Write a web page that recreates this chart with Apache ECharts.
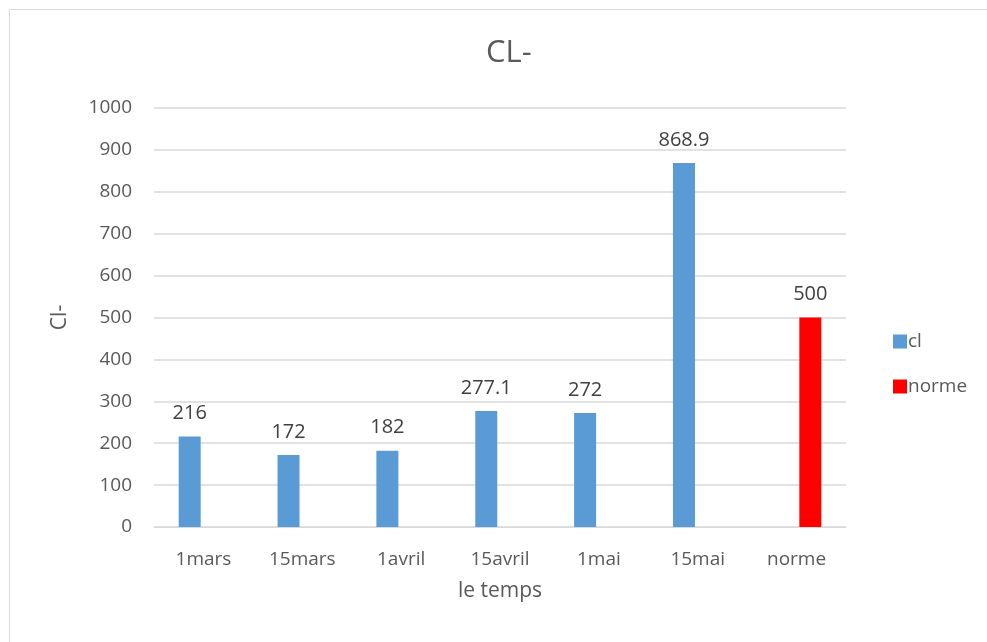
<!DOCTYPE html>
<html>
<head>
<meta charset="utf-8">
<script src="https://cdn.jsdelivr.net/npm/echarts@6/dist/echarts.min.js"></script>
<style>
  html, body { margin: 0; padding: 0; background: #fff; }
  #chart { width: 987px; height: 642px; }
</style>
</head>
<body>
<div id="chart"></div>
<script>
// données
const categories = ['1mars', '15mars', '1avril', '15avril', '1mai', '15mai', 'norme']
const clValues = [216, 172, 182, 277.1, 272, 868.9, null]
const normeValues = [null, null, null, null, null, null, 500]
const yTicks = { min: 0, max: 1000, interval: 100 }

const font = '"Open Sans", Lato, sans-serif'
const txtColor = '#595959'

const chart = echarts.init(document.getElementById('chart'))
chart.setOption({
  animation: false,
  textStyle: { fontFamily: font },
  graphic: [{
    type: 'rect',
    shape: { x: 9.5, y: 9.5, width: 1000, height: 700 },
    style: { fill: 'none', stroke: '#d9d9d9', lineWidth: 1 }
  }],
  title: {
    text: 'CL-',
    left: 481,
    top: 33,
    textStyle: { fontFamily: font, fontSize: 31, fontWeight: 'normal', color: txtColor }
  },
  legend: {
    orient: 'vertical',
    left: 888,
    top: 327,
    itemWidth: 14,
    itemHeight: 14,
    itemGap: 26,
    icon: 'rect',
    textStyle: { fontFamily: font, fontSize: 19, color: txtColor, padding: [0, 0, 0, -4] },
    data: ['cl', 'norme']
  },
  grid: { left: 154, right: 141, top: 108, bottom: 115 },
  xAxis: {
    type: 'category',
    data: categories,
    name: 'le temps',
    nameLocation: 'middle',
    nameGap: 54,
    nameTextStyle: { fontFamily: font, fontSize: 21, color: txtColor },
    axisLine: { lineStyle: { color: '#d9d9d9' } },
    axisTick: { show: false },
    axisLabel: { fontFamily: font, fontSize: 19, color: txtColor, margin: 23 }
  },
  yAxis: {
    type: 'value',
    min: yTicks.min,
    max: yTicks.max,
    interval: yTicks.interval,
    name: 'Cl-',
    nameLocation: 'middle',
    nameGap: 83,
    nameRotate: 90,
    nameTextStyle: { fontFamily: font, fontSize: 21, color: txtColor },
    axisLine: { show: false },
    axisTick: { show: false },
    axisLabel: { fontFamily: font, fontSize: 19, color: txtColor, margin: 22, formatter: v => String(v) },
    splitLine: { lineStyle: { color: '#d9d9d9', width: 1.5 } }
  },
  series: [
    {
      name: 'cl',
      type: 'bar',
      data: clValues,
      barWidth: 22,
      barGap: '25%',
      itemStyle: { color: '#5b9bd5' },
      label: { show: true, position: 'top', distance: 13, fontFamily: font, fontSize: 20, color: '#404040' }
    },
    {
      name: 'norme',
      type: 'bar',
      data: normeValues,
      barWidth: 22,
      itemStyle: { color: '#ff0000' },
      label: { show: true, position: 'top', distance: 13, fontFamily: font, fontSize: 20, color: '#404040' }
    }
  ]
})
</script>
</body>
</html>
